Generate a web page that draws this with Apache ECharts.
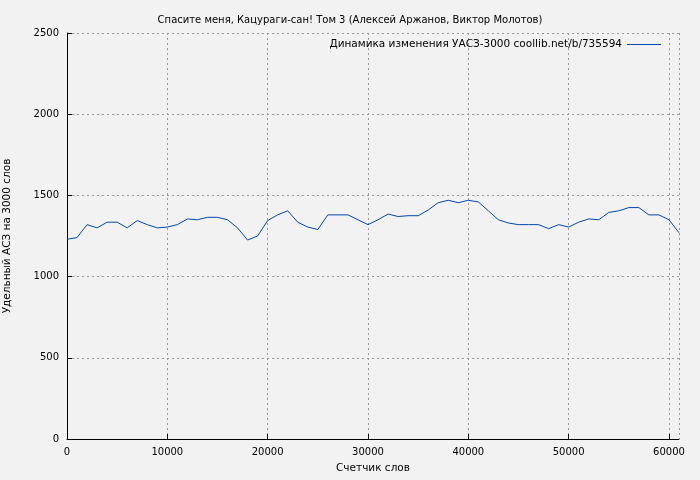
<!DOCTYPE html>
<html>
<head>
  <meta charset="utf-8" />
  <title>УАСЗ</title>
  <script src="https://cdn.jsdelivr.net/npm/echarts@6/dist/echarts.min.js"></script>
</head>
<body style="margin:0">
  <div id="main" style="width:700px;height:480px"></div>
  <script>
    const words = [0, 1000, 2000, 3000, 4000, 5000, 6000, 7000, 8000, 9000, 10000, 11000, 12000, 13000, 14000, 15000, 16000, 17000, 18000, 19000, 20000, 21000, 22000, 23000, 24000, 25000, 26000, 27000, 28000, 29000, 30000, 31000, 32000, 33000, 34000, 35000, 36000, 37000, 38000, 39000, 40000, 41000, 42000, 43000, 44000, 45000, 46000, 47000, 48000, 49000, 50000, 51000, 52000, 53000, 54000, 55000, 56000, 57000, 58000, 59000, 60000, 61000];
    const uasz = [1230, 1240, 1320, 1300, 1335, 1335, 1300, 1345, 1320, 1300, 1305, 1320, 1355, 1350, 1365, 1365, 1350, 1300, 1225, 1250, 1345, 1380, 1405, 1335, 1305, 1290, 1380, 1380, 1380, 1350, 1320, 1350, 1385, 1370, 1375, 1375, 1410, 1455, 1470, 1455, 1470, 1460, 1405, 1350, 1330, 1320, 1320, 1320, 1295, 1320, 1305, 1335, 1355, 1350, 1395, 1405, 1425, 1425, 1380, 1380, 1350, 1270];
    const seriesName = "Динамика изменения УАСЗ-3000 coollib.net/b/735594";

    const font = "DejaVu Sans";
    const chart = echarts.init(document.getElementById("main"));
    chart.setOption({
      backgroundColor: "#f2f2f2",
      animation: false,
      textStyle: { fontFamily: font },
      title: {
        text: "Спасите меня, Кацураги-сан! Том 3 (Алексей Аржанов, Виктор Молотов)",
        left: "center",
        top: 10,
        textStyle: { fontSize: 10, fontWeight: "normal", color: "#000", fontFamily: font },
      },
      legend: {
        right: 34,
        top: 34,
        icon: "path://M0,0H40V1H0Z",
        itemWidth: 34,
        itemHeight: 1,
        align: "right",
        textStyle: { fontSize: 10.5, color: "#000", fontFamily: font },
        data: [seriesName],
      },
      grid: { left: 67, right: 21, top: 33, bottom: 41, outerBoundsMode: "none" },
      xAxis: {
        type: "value",
        min: 0,
        max: 61000,
        interval: 10000,
        name: "Счетчик слов",
        nameLocation: "middle",
        nameGap: 24,
        nameTextStyle: { fontSize: 10.5, color: "#000" },
        axisLine: { lineStyle: { color: "#000" } },
        axisTick: { inside: true, lineStyle: { color: "#000" } },
        axisLabel: { color: "#000", fontSize: 10, showMaxLabel: false, formatter: (v) => String(v) },
        splitLine: { lineStyle: { color: "#999", type: [2, 3] } },
      },
      yAxis: {
        type: "value",
        min: 0,
        max: 2500,
        interval: 500,
        name: "Удельный АСЗ на 3000 слов",
        nameLocation: "middle",
        nameGap: 54,
        nameTextStyle: { fontSize: 10.5, color: "#000" },
        axisLine: { show: true, lineStyle: { color: "#000" } },
        axisTick: { show: true, inside: true, lineStyle: { color: "#000" } },
        axisLabel: { color: "#000", fontSize: 10, formatter: (v) => String(v) },
        splitLine: { lineStyle: { color: "#999", type: [2, 3] } },
      },
      series: [
        {
          name: seriesName,
          type: "line",
          showSymbol: false,
          data: words.map((w, i) => [w, uasz[i]]),
          lineStyle: { color: "#0047ab", width: 1 },
          itemStyle: { color: "#0047ab" },
        },
      ],
    });
  </script>
</body>
</html>
